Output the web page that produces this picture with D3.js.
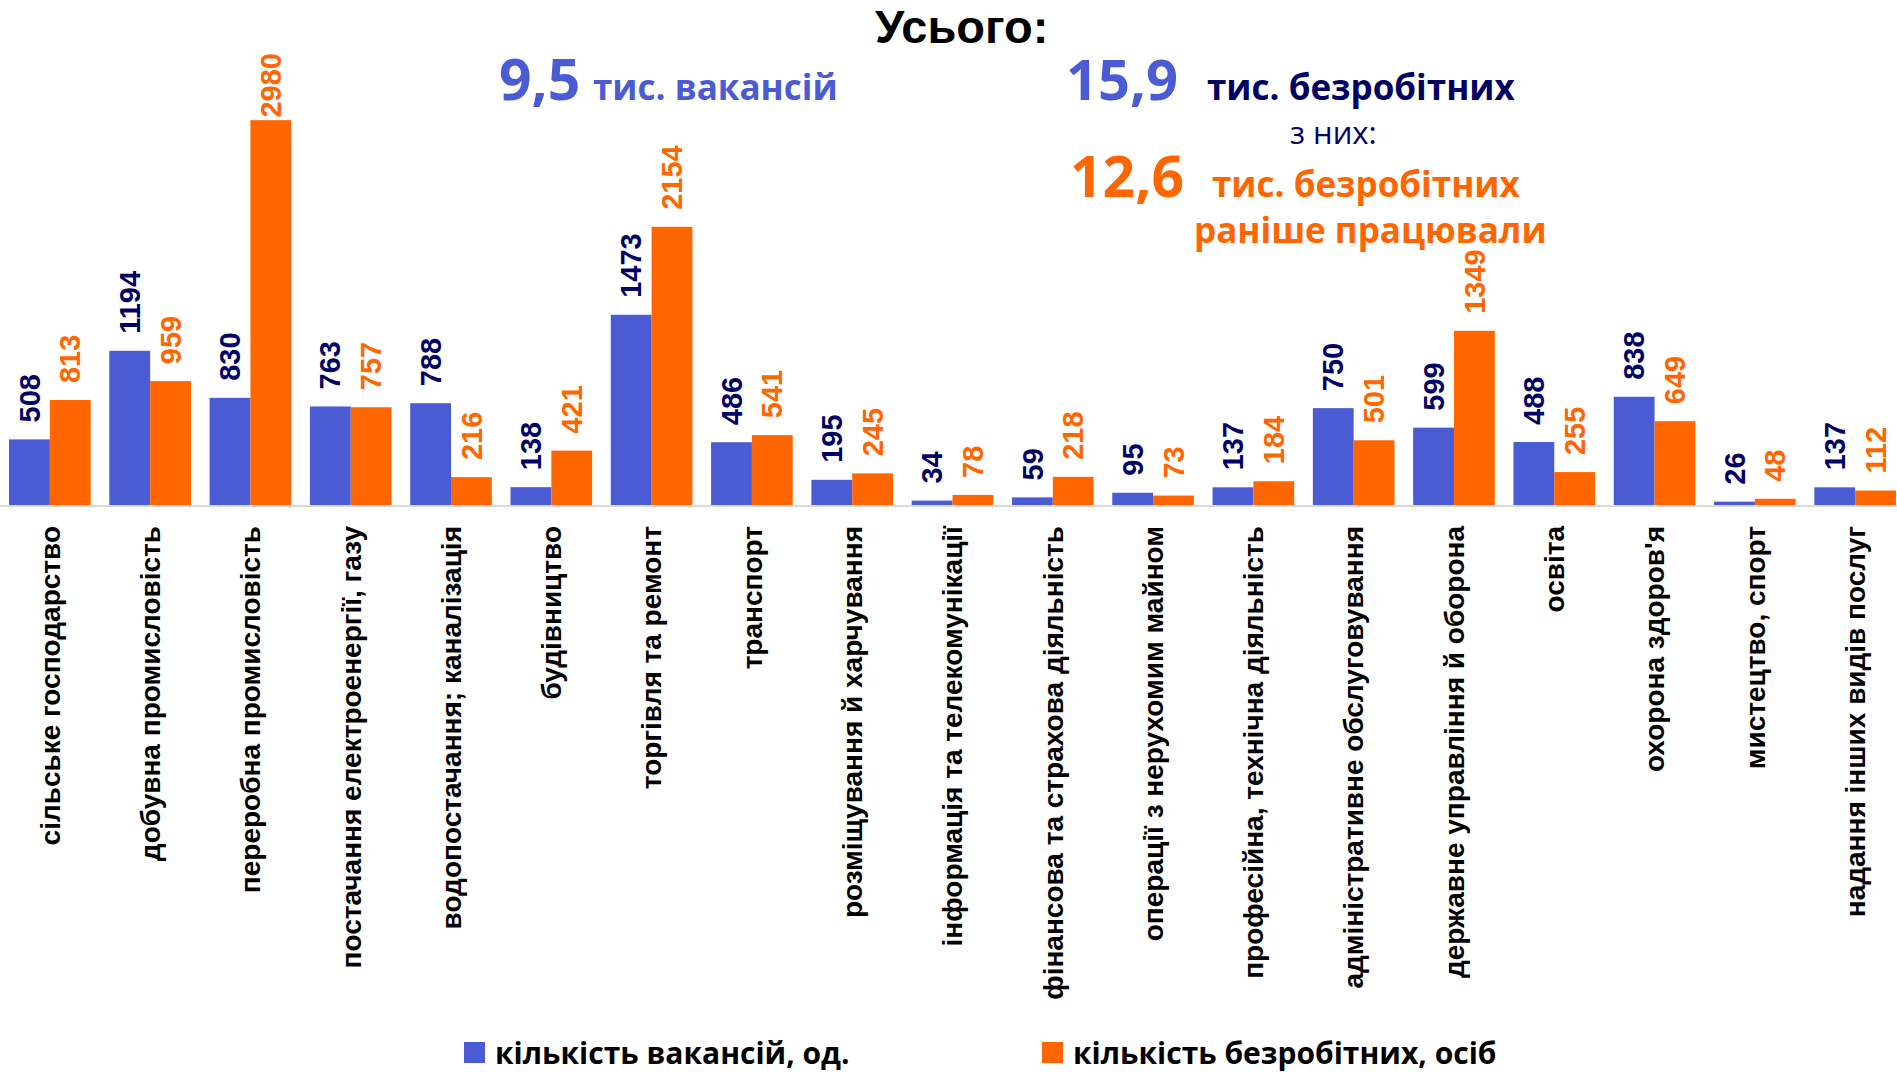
<!DOCTYPE html>
<html>
<head>
<meta charset="utf-8">
<script src="https://cdn.jsdelivr.net/npm/d3@7"></script>
<style>
  body { margin: 0; background: #fff; }
  svg { display: block; }
</style>
</head>
<body>
<div class="chart"></div>
<script>
var categories = [
  "сільське господарство", "добувна промисловість", "переробна промисловість",
  "постачання електроенергії, газу", "водопостачання; каналізація", "будівництво",
  "торгівля та ремонт", "транспорт", "розміщування й харчування",
  "інформація та телекомунікації", "фінансова та страхова діяльність",
  "операції з нерухомим майном", "професійна, технічна діяльність",
  "адміністративне обслуговування", "державне управління й оборона", "освіта",
  "охорона здоров'я", "мистецтво, спорт", "надання інших видів послуг"
];
var vacancies  = [508, 1194, 830, 763, 788, 138, 1473, 486, 195, 34, 59, 95, 137, 750, 599, 488, 838, 26, 137];
var unemployed = [813, 959, 2980, 757, 216, 421, 2154, 541, 245, 78, 218, 73, 184, 501, 1349, 255, 649, 48, 112];
var seriesNames = ["кількість вакансій, од.", "кількість безробітних, осіб"];

var width = 1897, height = 1072;
var blue = "#4A5BD4", orange = "#FF6600", navy = "#000066";
var barColors = [blue, orange], labelColors = [navy, orange];
var plotTop = 53;

var svg = d3.select(".chart")
    .append("svg")
    .attr("width", width)
    .attr("height", height);

svg.append("rect").attr("width", width).attr("height", height).attr("fill", "#fff");

var x0 = d3.scaleBand()
    .domain(categories)
    .range([0, 1905])
    .paddingInner(0.186)
    .paddingOuter(0.09);

var x1 = d3.scaleBand()
    .domain([0, 1])
    .range([0, x0.bandwidth()]);

var y = d3.scaleLinear()
    .domain([0, 3500])
    .range([505, plotTop]);

var rows = categories.map(function(c, i) {
  return {cat: c, values: [vacancies[i], unemployed[i]]};
});

// бари
var groups = svg.selectAll(".group")
    .data(rows)
    .enter().append("g")
    .attr("class", "group")
    .attr("transform", function(d) { return "translate(" + x0(d.cat) + ",0)"; });

groups.selectAll("rect")
    .data(function(d) { return d.values.map(function(v, k) { return {k: k, v: v}; }); })
    .enter().append("rect")
    .attr("x", function(d) { return x1(d.k); })
    .attr("y", function(d) { return y(d.v); })
    .attr("width", x1.bandwidth())
    .attr("height", function(d) { return y(0) - y(d.v); })
    .attr("fill", function(d) { return barColors[d.k]; });

// підписи значень (не виходять за верх області графіка)
groups.selectAll("text.val")
    .data(function(d) { return d.values.map(function(v, k) { return {k: k, v: v}; }); })
    .enter().append("text")
    .attr("class", "val")
    .attr("dy", "0.35em")
    .attr("font-family", "'Liberation Sans', Arial, sans-serif")
    .attr("font-weight", "bold")
    .attr("font-size", 29)
    .attr("fill", function(d) { return labelColors[d.k]; })
    .text(function(d) { return d.v; })
    .attr("transform", function(d) {
      var len = this.getComputedTextLength();
      var yy = Math.max(y(d.v) - 17, plotTop + len);
      return "translate(" + (x1(d.k) + x1.bandwidth() / 2) + "," + yy + ") rotate(-90)";
    });

// вісь
svg.append("line")
    .attr("x1", 0).attr("x2", width)
    .attr("y1", y(0) + 1).attr("y2", y(0) + 1)
    .attr("stroke", "#D9D9D9")
    .attr("stroke-width", 2);

// категорії
svg.selectAll("text.cat")
    .data(categories)
    .enter().append("text")
    .attr("class", "cat")
    .attr("transform", function(d) {
      return "translate(" + (x0(d) + x0.bandwidth() / 2) + ",526) rotate(-90)";
    })
    .attr("dy", "0.35em")
    .attr("text-anchor", "end")
    .attr("font-family", "'Liberation Sans', Arial, sans-serif")
    .attr("font-weight", "bold")
    .attr("font-size", 28)
    .attr("fill", "#000")
    .text(function(d) { return d; });

// легенда
var legendX = [464, 1042];
var legend = svg.selectAll(".legend")
    .data(seriesNames)
    .enter().append("g")
    .attr("class", "legend")
    .attr("transform", function(d, i) { return "translate(" + legendX[i] + ",1042)"; });

legend.append("rect")
    .attr("width", 21).attr("height", 21)
    .attr("fill", function(d, i) { return barColors[i]; });

legend.append("text")
    .attr("x", 31).attr("y", 22)
    .attr("font-family", "'Open Sans', sans-serif")
    .attr("font-weight", "bold")
    .attr("font-size", 30)
    .attr("fill", "#000")
    .text(function(d) { return d; });

// заголовок і підсумки
var heads = [
  {t: "Усього:", x: 875, y: 43, s: 47, c: "#000", f: "'Liberation Sans', Arial, sans-serif", w: "bold"},
  {t: "9,5", x: 499, y: 100, s: 57, c: blue, f: "'Open Sans', sans-serif", w: "bold"},
  {t: "тис. вакансій", x: 593, y: 100, s: 35, c: blue, f: "'Open Sans', sans-serif", w: "bold"},
  {t: "15,9", x: 1066, y: 100, s: 56, c: blue, f: "'Open Sans', sans-serif", w: "bold"},
  {t: "тис. безробітних", x: 1207, y: 100, s: 35, c: navy, f: "'Open Sans', sans-serif", w: "bold"},
  {t: "з них:", x: 1290, y: 144, s: 31, c: navy, f: "'Open Sans', sans-serif", w: "normal"},
  {t: "12,6", x: 1070, y: 197, s: 57, c: orange, f: "'Open Sans', sans-serif", w: "bold"},
  {t: "тис. безробітних", x: 1212, y: 197, s: 35, c: orange, f: "'Open Sans', sans-serif", w: "bold"},
  {t: "раніше працювали", x: 1194, y: 243, s: 35, c: orange, f: "'Open Sans', sans-serif", w: "bold"}
];

svg.selectAll("text.head")
    .data(heads)
    .enter().append("text")
    .attr("class", "head")
    .attr("x", function(d) { return d.x; })
    .attr("y", function(d) { return d.y; })
    .attr("font-family", function(d) { return d.f; })
    .attr("font-weight", function(d) { return d.w; })
    .attr("font-size", function(d) { return d.s; })
    .attr("fill", function(d) { return d.c; })
    .text(function(d) { return d.t; });
</script>
</body>
</html>
